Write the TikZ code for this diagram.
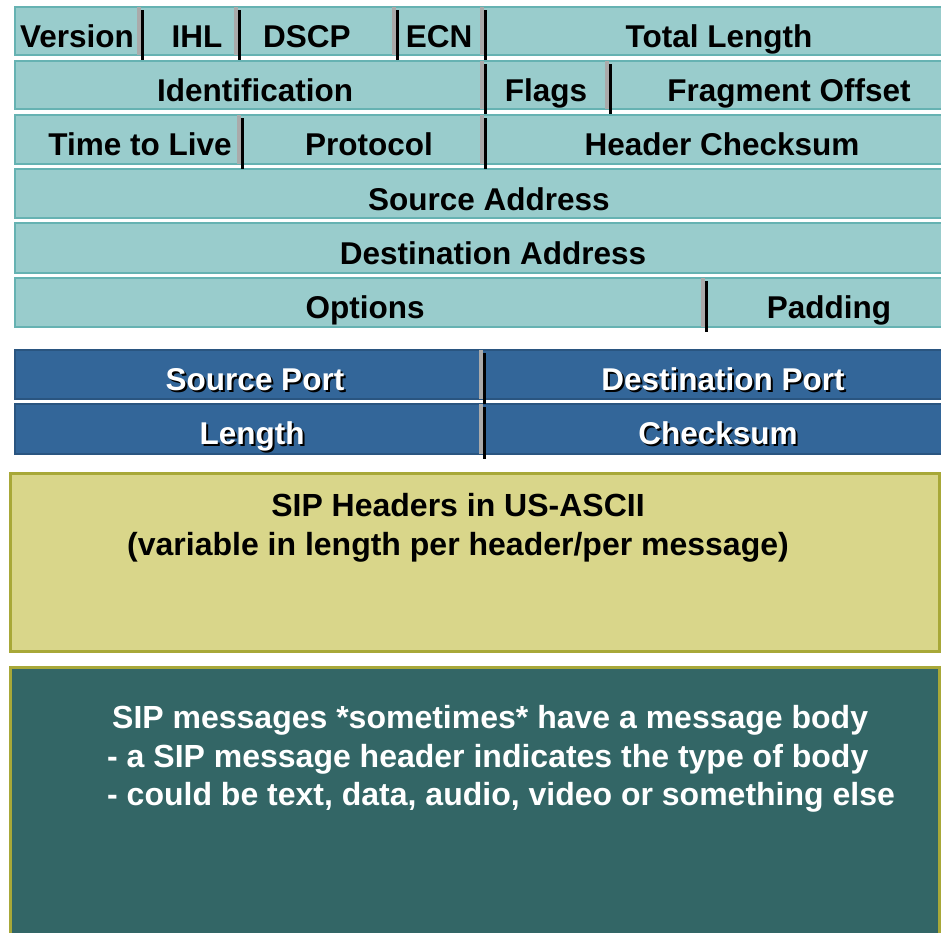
\documentclass[tikz,border=0pt]{standalone}
\usepackage{fontspec}
\setmainfont{Liberation Sans}

\definecolor{ipfill}{HTML}{99CCCC}
\definecolor{ipline}{HTML}{66B2B2}
\definecolor{udpfill}{HTML}{336699}
\definecolor{udpline}{HTML}{2A5580}
\definecolor{sipfill}{HTML}{D9D68A}
\definecolor{sipline}{HTML}{A8A838}
\definecolor{bodyfill}{HTML}{336666}
\definecolor{barcol}{HTML}{AAAAAA}

\tikzset{
  iprow/.style = {fill=ipfill, draw=ipline, line width=2pt},
  udprow/.style = {fill=udpfill, draw=udpline, line width=2pt},
  sipbox/.style = {fill=sipfill, draw=sipline, line width=3pt},
  bodybox/.style = {fill=bodyfill, draw=sipline, line width=3pt},
  lbl/.style = {font=\bfseries\fontsize{31.5}{38}\selectfont, inner sep=0pt, anchor=base},
  udplbl/.style = {lbl, text=white},
  siplbl/.style = {lbl, font=\bfseries\fontsize{32}{38}\selectfont},
  bodylbl/.style = {siplbl, text=white, anchor=base west},
}

% field separator: grey bar with a black shadow
\newcommand{\fieldbar}[3]{%
  \draw [line width=2.5pt, black] (#1+3.5, #2+3) -- (#1+3.5, #3+5);
  \draw [line width=3.5pt, barcol] (#1, #2) -- (#1, #3);
}
% white label with a black drop shadow
\newcommand{\udplabel}[4]{%
  \node [lbl] (#1-shadow) at (#2+2, #3+2) {#4};
  \node [udplbl] (#1) at (#2, #3) {#4};
}

\begin{document}
\begin{tikzpicture}[x=1pt, y=-1pt]
  \useasboundingbox (0, 0) rectangle (941, 932);
  \clip (0, 0) rectangle (941, 932);

  % IP header
  \foreach \top/\bot in {7/55, 61/109, 115/164, 169/218, 223/273, 278/327} {
    \draw [iprow] (15, \top) rectangle (950, \bot);
  }
  \foreach \x in {139, 236, 394, 482} {
    \fieldbar{\x}{7}{55}
  }
  \fieldbar{482}{61}{109}
  \fieldbar{607}{61}{109}
  \fieldbar{239}{115}{164}
  \fieldbar{482}{115}{164}
  \fieldbar{703}{278}{327}

  \node [lbl] (version) at (77, 47) {Version};
  \node [lbl] (ihl) at (197, 47) {IHL};
  \node [lbl] (dscp) at (307, 47) {DSCP};
  \node [lbl] (ecn) at (439, 47) {ECN};
  \node [lbl] (totlen) at (719, 47) {Total Length};
  \node [lbl] (ident) at (255, 101) {Identification};
  \node [lbl] (flags) at (546, 101) {Flags};
  \node [lbl] (fragoff) at (789, 101) {Fragment Offset};
  \node [lbl] (ttl) at (140, 155) {Time to Live};
  \node [lbl] (proto) at (369, 155) {Protocol};
  \node [lbl] (hdrsum) at (722, 155) {Header Checksum};
  \node [lbl] (srcaddr) at (489, 210) {Source Address};
  \node [lbl] (dstaddr) at (493, 264) {Destination Address};
  \node [lbl] (options) at (365, 318) {Options};
  \node [lbl] (padding) at (829, 318) {Padding};

  % UDP header
  \draw [udprow] (15, 350) rectangle (950, 399);
  \draw [udprow] (15, 404) rectangle (950, 454);
  \fieldbar{481}{350}{399}
  \fieldbar{481}{404}{454}
  \udplabel{srcport}{255}{390}{Source Port}
  \udplabel{dstport}{723}{390}{Destination Port}
  \udplabel{udplen}{252}{444}{Length}
  \udplabel{udpsum}{718}{444}{Checksum}

  % SIP headers
  \draw [sipbox] (10, 473) rectangle (939, 651);
  \node [siplbl] (siphdr) at (458, 516) {SIP Headers in US-ASCII};
  \node [siplbl] (siplen) at (458, 555) {(variable in length per header/per message)};

  % message body
  \draw [bodybox] (10, 667) rectangle (939, 945);
  \node [bodylbl] (body1) at (112, 728) {SIP messages *sometimes* have a message body};
  \node [bodylbl] (body2) at (107, 767) {- a SIP message header indicates the type of body};
  \node [bodylbl] (body3) at (107, 805) {- could be text, data, audio, video or something else};
\end{tikzpicture}
\end{document}
